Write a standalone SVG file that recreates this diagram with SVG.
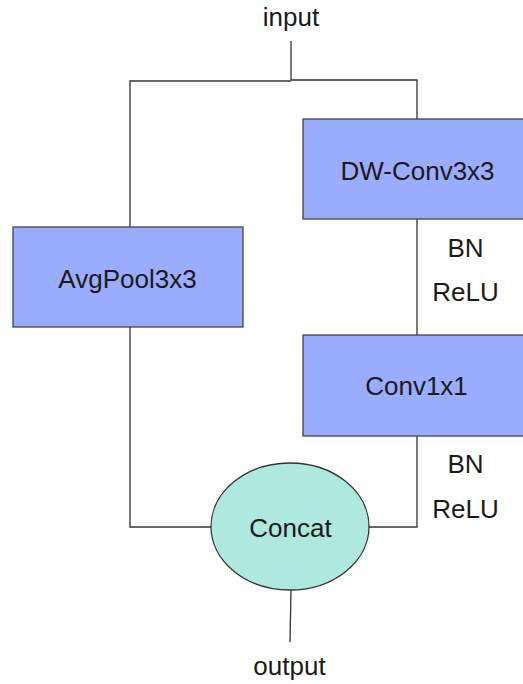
<svg xmlns="http://www.w3.org/2000/svg" width="523" height="684" viewBox="0 0 523 684">
<style>
.box{fill:#9aacfd;stroke:#444;stroke-width:1.3}
.ell{fill:#aee8de;stroke:#333;stroke-width:1.3}
.t{font-family:"Liberation Sans",Arial,sans-serif;font-size:26px;fill:#1a1a1a;text-anchor:middle}
.c{fill:none;stroke:#333;stroke-width:1.3}
</style>
<rect width="523" height="684" fill="#fff"/>
<g id="connectors">
<path class="c" d="M291,41 V80"/>
<path class="c" d="M130,227 V81 H291 M291,80 H417 V119"/>
<path class="c" d="M417,219 V335"/>
<path class="c" d="M417,436 V527 H369"/>
<path class="c" d="M130,327 V527 H211"/>
<path class="c" d="M291,590 L290,642"/>
</g>
<g id="input"><text class="t" x="291" y="26">input</text></g>
<g id="avgpool"><rect class="box" x="13" y="227" width="230" height="100"/><text class="t" x="127.5" y="288">AvgPool3x3</text></g>
<g id="dwconv"><rect class="box" x="303" y="119" width="225" height="100"/><text class="t" x="417.5" y="180">DW-Conv3x3</text></g>
<g id="bnrelu1"><text class="t" x="465.5" y="257">BN</text><text class="t" x="465.5" y="301">ReLU</text></g>
<g id="conv1x1"><rect class="box" x="303" y="335" width="225" height="101"/><text class="t" x="416.5" y="395">Conv1x1</text></g>
<g id="bnrelu2"><text class="t" x="465.5" y="473">BN</text><text class="t" x="465.5" y="518">ReLU</text></g>
<g id="concat"><ellipse class="ell" cx="290" cy="526.5" rx="79" ry="63.5"/><text class="t" x="290.5" y="537">Concat</text></g>
<g id="output"><text class="t" x="289.5" y="675">output</text></g>
</svg>
